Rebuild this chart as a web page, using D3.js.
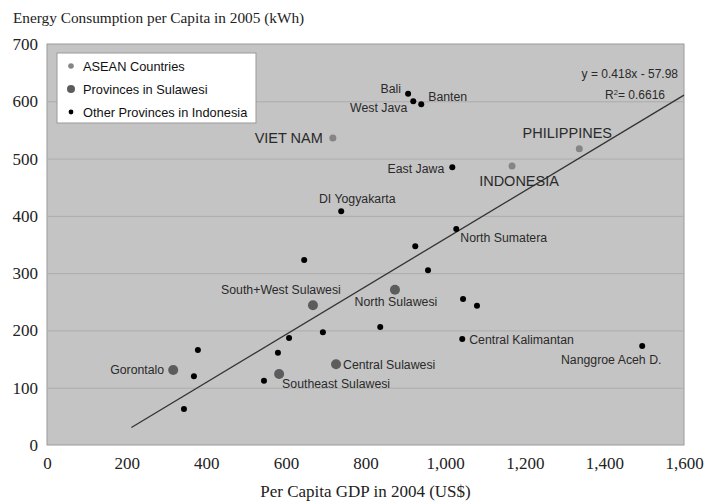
<!DOCTYPE html>
<html>
  <head>
    <meta charset='utf-8'>
    <title>Energy Consumption vs GDP</title>
    <script src='https://d3js.org/d3.v7.min.js'></script>
    <style>
      body { margin: 0; background: #fff; }
    </style>
  </head>

  <body>
    <div id='chart'></div>
    <script>
    // Data
    const names  = ['VIET NAM', 'INDONESIA', 'PHILIPPINES',
                    'Gorontalo', 'South+West Sulawesi', 'North Sulawesi', 'Central Sulawesi', 'Southeast Sulawesi',
                    'Bali', 'West Java', 'Banten', 'East Jawa', 'DI Yogyakarta', 'North Sumatera',
                    '', '', '', '', '', '', '', '', '', '', '', '', '',
                    'Central Kalimantan', 'Nanggroe Aceh D.'];
    const groups = ['asean', 'asean', 'asean',
                    'sulawesi', 'sulawesi', 'sulawesi', 'sulawesi', 'sulawesi',
                    'other', 'other', 'other', 'other', 'other', 'other',
                    'other', 'other', 'other', 'other', 'other', 'other', 'other', 'other', 'other', 'other', 'other', 'other', 'other',
                    'other', 'other'];
    const gdp    = [718, 1168, 1337,
                    317, 668, 874, 726, 583,
                    907, 920, 940, 1018, 739, 1028,
                    925, 646, 957, 1045, 1080, 693, 608, 580, 545, 379, 369, 344, 837,
                    1043, 1495];
    const energy = [536, 487, 517,
                    131, 244, 271, 141, 124,
                    613, 600, 595, 485, 408, 377,
                    347, 323, 305, 255, 243, 197, 187, 161, 112, 166, 120, 63, 206,
                    185, 173];

    const xTicks = [0, 200, 400, 600, 800, 1000, 1200, 1400, 1600];
    const yTicks = [0, 100, 200, 300, 400, 500, 600, 700];
    const slope = 0.418, intercept = -57.98, r2 = 0.6616;
    const fitRange = [212, 1600];

    const legendItems = [
      { key: 'asean', label: 'ASEAN Countries' },
      { key: 'sulawesi', label: 'Provinces in Sulawesi' },
      { key: 'other', label: 'Other Provinces in Indonesia' }
    ];

    // Styling per group
    const style = {
      asean:    { r: 3.5, fill: '#858585' },
      sulawesi: { r: 5,   fill: '#5c5c5c' },
      other:    { r: 3,   fill: '#000' }
    };

    // Label placement (pixel offsets from the point)
    const labelPos = {
      'VIET NAM':            { dx: -10, dy: 5,   a: 'end',    big: true },
      'INDONESIA':           { dx: 7,   dy: 20,  a: 'middle', big: true },
      'PHILIPPINES':         { dx: -12, dy: -11, a: 'middle', big: true },
      'Bali':                { dx: -7,  dy: -1,  a: 'end' },
      'Banten':              { dx: 7,   dy: -3,  a: 'start' },
      'West Java':           { dx: -6,  dy: 11,  a: 'end' },
      'East Jawa':           { dx: -8,  dy: 6,   a: 'end' },
      'DI Yogyakarta':       { dx: 16,  dy: -8,  a: 'middle' },
      'North Sumatera':      { dx: 4,   dy: 13,  a: 'start' },
      'South+West Sulawesi': { dx: -32, dy: -11, a: 'middle' },
      'North Sulawesi':      { dx: 1,   dy: 16,  a: 'middle' },
      'Central Kalimantan':  { dx: 7,   dy: 5,   a: 'start' },
      'Nanggroe Aceh D.':    { dx: -31, dy: 18,  a: 'middle' },
      'Gorontalo':           { dx: -9,  dy: 4,   a: 'end' },
      'Central Sulawesi':    { dx: 7,   dy: 5,   a: 'start' },
      'Southeast Sulawesi':  { dx: 3,   dy: 14,  a: 'start' }
    };

    const data = names.map((n, i) => ({ name: n, group: groups[i], x: gdp[i], y: energy[i] }));

    const W = 711, H = 501;
    const margin = { top: 44, right: 27, bottom: 56, left: 47 },
          width  = W - margin.left - margin.right,
          height = H - margin.top - margin.bottom;

    const svg = d3.select('#chart').append('svg')
                  .attr('width', W)
                  .attr('height', H);

    const g = svg.append('g')
                 .attr('transform', 'translate(' + margin.left + ',' + margin.top + ')');

    const xScale = d3.scaleLinear().domain([0, 1600]).range([0, width]);
    const yScale = d3.scaleLinear().domain([0, 700]).range([height, 0]);

    // Plot background
    g.append('rect')
      .attr('width', width).attr('height', height)
      .attr('fill', '#c4c4c4')
      .attr('stroke', '#9a9a9a');

    // Gridlines
    g.selectAll('.grid')
      .data(yTicks.filter(d => d > 0 && d < 700))
      .enter().append('line')
      .attr('x1', 0).attr('x2', width)
      .attr('y1', d => yScale(d) + 0.5).attr('y2', d => yScale(d) + 0.5)
      .attr('stroke', '#acacac');

    // Axes
    const serif = '"Liberation Serif", "DejaVu Serif", serif';
    const xAxis = d3.axisBottom(xScale).tickValues(xTicks).tickSize(0).tickPadding(12)
                    .tickFormat(d3.format(','));
    const xa = g.append('g').attr('transform', 'translate(0,' + height + ')').call(xAxis);
    const yAxis = d3.axisLeft(yScale).tickValues(yTicks).tickSize(0).tickPadding(9);
    const ya = g.append('g').call(yAxis);
    [xa, ya].forEach(a => {
      a.select('.domain').remove();
      a.selectAll('text').attr('font-family', serif).attr('font-size', 17).attr('fill', '#222');
    });

    // Trend line
    g.append('line')
      .attr('x1', xScale(fitRange[0])).attr('y1', yScale(slope * fitRange[0] + intercept))
      .attr('x2', xScale(fitRange[1])).attr('y2', yScale(slope * fitRange[1] + intercept))
      .attr('stroke', '#333').attr('stroke-width', 1.3);

    // Points
    g.selectAll('circle.pt')
      .data(data).enter().append('circle')
      .attr('class', 'pt')
      .attr('cx', d => xScale(d.x))
      .attr('cy', d => yScale(d.y))
      .attr('r', d => style[d.group].r)
      .attr('fill', d => style[d.group].fill);

    // Labels
    const sans = '"Liberation Sans", Arial, sans-serif';
    g.selectAll('text.lbl')
      .data(data.filter(d => d.name && labelPos[d.name])).enter().append('text')
      .attr('class', 'lbl')
      .attr('x', d => xScale(d.x) + labelPos[d.name].dx)
      .attr('y', d => yScale(d.y) + labelPos[d.name].dy)
      .attr('text-anchor', d => labelPos[d.name].a)
      .attr('font-family', sans)
      .attr('font-size', d => labelPos[d.name].big ? 14.5 : 12.3)
      .attr('fill', '#2a2a2a')
      .text(d => d.name);

    // Equation
    g.append('text')
      .attr('x', width - 6).attr('y', 34)
      .attr('text-anchor', 'end')
      .attr('font-family', sans).attr('font-size', 12).attr('fill', '#2a2a2a')
      .text('y = ' + slope + 'x - ' + Math.abs(intercept));
    const r2t = g.append('text')
      .attr('x', width - 19).attr('y', 55)
      .attr('text-anchor', 'end')
      .attr('font-family', sans).attr('font-size', 12).attr('fill', '#2a2a2a');
    r2t.append('tspan').text('R');
    r2t.append('tspan').attr('dy', -4).attr('font-size', 7.5).text('2');
    r2t.append('tspan').attr('dy', 4).text('= ' + r2);

    // Legend
    const leg = g.append('g').attr('transform', 'translate(10,9)');
    leg.append('rect')
      .attr('width', 199).attr('height', 70)
      .attr('fill', '#fff').attr('stroke', '#999');
    const li = leg.selectAll('g.li')
      .data(legendItems).enter().append('g')
      .attr('transform', (d, i) => 'translate(0,' + (13 + i * 23) + ')');
    li.append('circle')
      .attr('cx', 14).attr('cy', 0)
      .attr('r', d => style[d.key].r * 0.8)
      .attr('fill', d => style[d.key].fill);
    li.append('text')
      .attr('x', 26).attr('y', 4.5)
      .attr('font-family', sans).attr('font-size', 12.8).attr('fill', '#111')
      .text(d => d.label);

    // Titles
    svg.append('text')
      .attr('x', 13).attr('y', 23)
      .attr('font-family', serif).attr('font-size', 15.3).attr('fill', '#222')
      .text('Energy Consumption per Capita in 2005 (kWh)');
    svg.append('text')
      .attr('x', margin.left + width / 2).attr('y', 497)
      .attr('text-anchor', 'middle')
      .attr('font-family', serif).attr('font-size', 17).attr('fill', '#222')
      .text('Per Capita GDP in 2004 (US$)');
    </script>
  </body>
</html>
